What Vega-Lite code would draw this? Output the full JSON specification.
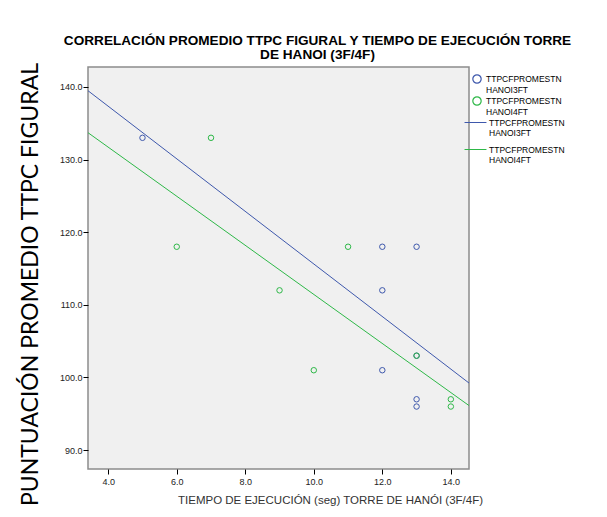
{
  "$schema": "https://vega.github.io/schema/vega-lite/v6.json",
  "width": 381,
  "height": 402,
  "autosize": "none",
  "padding": {"left": 88, "top": 67, "right": 138, "bottom": 48},
  "background": "white",
  "title": {
    "text": ["CORRELACIÓN PROMEDIO TTPC FIGURAL Y TIEMPO DE EJECUCIÓN TORRE", "DE HANOI (3F/4F)"],
    "anchor": "middle",
    "dx": 39,
    "offset": 1,
    "font": "Liberation Sans",
    "fontSize": 13.6,
    "fontWeight": "bold",
    "color": "#000000",
    "lineHeight": 14
  },
  "data": {
    "values": [
      {"tiempo": 5, "ttpc": 133, "serie": "TTPCFPROMESTN HANOI3FT"},
      {"tiempo": 12, "ttpc": 118, "serie": "TTPCFPROMESTN HANOI3FT"},
      {"tiempo": 13, "ttpc": 118, "serie": "TTPCFPROMESTN HANOI3FT"},
      {"tiempo": 12, "ttpc": 112, "serie": "TTPCFPROMESTN HANOI3FT"},
      {"tiempo": 12, "ttpc": 101, "serie": "TTPCFPROMESTN HANOI3FT"},
      {"tiempo": 13, "ttpc": 103, "serie": "TTPCFPROMESTN HANOI3FT"},
      {"tiempo": 13, "ttpc": 97, "serie": "TTPCFPROMESTN HANOI3FT"},
      {"tiempo": 13, "ttpc": 96, "serie": "TTPCFPROMESTN HANOI3FT"},
      {"tiempo": 7, "ttpc": 133, "serie": "TTPCFPROMESTN HANOI4FT"},
      {"tiempo": 6, "ttpc": 118, "serie": "TTPCFPROMESTN HANOI4FT"},
      {"tiempo": 11, "ttpc": 118, "serie": "TTPCFPROMESTN HANOI4FT"},
      {"tiempo": 9, "ttpc": 112, "serie": "TTPCFPROMESTN HANOI4FT"},
      {"tiempo": 10, "ttpc": 101, "serie": "TTPCFPROMESTN HANOI4FT"},
      {"tiempo": 13, "ttpc": 103, "serie": "TTPCFPROMESTN HANOI4FT"},
      {"tiempo": 14, "ttpc": 97, "serie": "TTPCFPROMESTN HANOI4FT"},
      {"tiempo": 14, "ttpc": 96, "serie": "TTPCFPROMESTN HANOI4FT"}
    ]
  },
  "layer": [
    {
      "mark": {"type": "point", "filled": false, "size": 30, "strokeWidth": 1, "opacity": 1},
      "encoding": {
        "x": {"field": "tiempo", "type": "quantitative"},
        "y": {"field": "ttpc", "type": "quantitative"},
        "color": {
          "field": "serie",
          "type": "nominal",
          "scale": {"range": ["#3E58AC", "#2EB848"]},
          "legend": {
            "orient": "none",
            "legendX": 384,
            "legendY": 7,
            "title": null,
            "symbolType": "circle",
            "symbolSize": 70,
            "symbolStrokeWidth": 1.2,
            "labelOffset": 4,
            "rowPadding": 0,
            "labelExpr": "[split(datum.label, ' ')[0], ' ' + split(datum.label, ' ')[1]]",
            "encode": {"labels": {"dy": {"value": -4}}}
          }
        }
      }
    },
    {
      "transform": [
        {"regression": "ttpc", "on": "tiempo", "groupby": ["serie"], "extent": [3.41, 14.53]}
      ],
      "mark": {"type": "line", "strokeWidth": 1, "clip": true},
      "encoding": {
        "x": {"field": "tiempo", "type": "quantitative"},
        "y": {"field": "ttpc", "type": "quantitative"},
        "stroke": {
          "field": "serie",
          "type": "nominal",
          "scale": {"range": ["#3E58AC", "#2EB848"]},
          "legend": {
            "orient": "none",
            "legendX": 376,
            "legendY": 44,
            "title": null,
            "symbolType": "stroke",
            "symbolSize": 480,
            "symbolStrokeWidth": 1,
            "labelOffset": 2,
            "rowPadding": -4,
            "labelExpr": "[split(datum.label, ' ')[0], ' ' + split(datum.label, ' ')[1]]",
            "encode": {"labels": {"dy": {"value": -4}}}
          }
        }
      }
    }
  ],
  "resolve": {"scale": {"color": "independent"}},
  "encoding": {
    "x": {
      "field": "tiempo",
      "type": "quantitative",
      "scale": {"domain": [3.41, 14.53], "nice": false, "zero": false},
      "axis": {
        "values": [4, 6, 8, 10, 12, 14],
        "format": ".1f",
        "grid": false,
        "domain": false,
        "tickSize": 5,
        "tickColor": "#000000",
        "labelPadding": 3,
        "title": "TIEMPO DE EJECUCIÓN (seg) TORRE DE HANÓI (3F/4F)",
        "titleX": 242,
        "titleY": 25,
        "titleFontWeight": "normal",
        "titleFontSize": 11.5,
        "titleColor": "#333333"
      }
    },
    "y": {
      "field": "ttpc",
      "type": "quantitative",
      "scale": {"domain": [87.4, 142.75], "nice": false, "zero": false},
      "axis": {
        "values": [90, 100, 110, 120, 130, 140],
        "format": ".1f",
        "grid": false,
        "domain": false,
        "tickSize": 5,
        "tickColor": "#000000",
        "labelPadding": 1,
        "title": "PUNTUACIÓN PROMEDIO TTPC FIGURAL",
        "titleX": -58,
        "titleY": 217,
        "titleAngle": -90,
        "titleAlign": "center",
        "titleBaseline": "middle",
        "titleFont": "Lato",
        "titleFontWeight": "normal",
        "titleFontSize": 23,
        "titleColor": "#000000"
      }
    }
  },
  "config": {
    "view": {"fill": "#F0F0F0", "stroke": "#8C8C8C", "strokeWidth": 1.5},
    "axis": {
      "labelFont": "Liberation Sans",
      "labelFontSize": 9,
      "labelColor": "#222222",
      "titleFont": "Liberation Sans"
    },
    "legend": {
      "labelFont": "Liberation Sans",
      "labelFontSize": 8.5,
      "labelColor": "#000000",
      "labelLimit": 200
    }
  }
}
